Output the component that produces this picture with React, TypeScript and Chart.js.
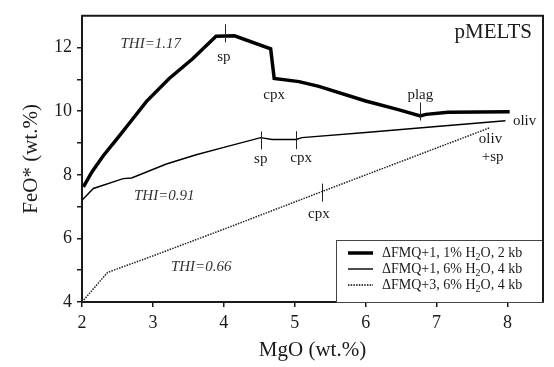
import { useEffect, useRef } from "react";
import { Chart, registerables } from "chart.js";

Chart.register(...registerables);

const FONT = "'Liberation Serif', 'Times New Roman', serif";

// Axis ticks
const xTickValues = [2, 3, 4, 5, 6, 7, 8];
const yTickValues = [4, 5, 6, 7, 8, 9, 10, 11, 12];
const yLabeledTicks = [4, 6, 8, 10, 12];

// Series: dFMQ+1, 1% H2O, 2 kb (thick)
const thickMgO = [2.02, 2.14, 2.3, 2.49, 2.67, 2.91, 3.23, 3.56, 3.89, 4.15, 4.66, 4.71, 5.06, 5.34, 6.0, 6.46, 6.77, 6.85, 7.16, 8.03];
const thickFeO = [7.62, 8.09, 8.6, 9.12, 9.63, 10.31, 11.03, 11.65, 12.36, 12.37, 11.96, 11.03, 10.93, 10.78, 10.32, 10.05, 9.85, 9.9, 9.97, 9.98];

// Series: dFMQ+1, 6% H2O, 4 kb (thin)
const thinMgO = [2.0, 2.16, 2.58, 2.7, 3.19, 3.61, 4.08, 4.52, 4.68, 5.02, 5.1, 6.0, 7.0, 7.97];
const thinFeO = [7.2, 7.57, 7.88, 7.9, 8.34, 8.63, 8.91, 9.17, 9.11, 9.11, 9.17, 9.33, 9.52, 9.7];

// Series: dFMQ+3, 6% H2O, 4 kb (dotted)
const dotMgO = [2.0, 2.36, 3.0, 4.0, 5.38, 7.75];
const dotFeO = [4.0, 4.93, 5.45, 6.29, 7.47, 9.48];

const legendLabels = ["ΔFMQ+1, 1% H_2O, 2 kb", "ΔFMQ+1, 6% H_2O, 4 kb", "ΔFMQ+3, 6% H_2O, 4 kb"];

// Text annotations (data coordinates)
const noteText = ["THI=1.17", "THI=0.91", "THI=0.66", "sp", "cpx", "plag", "oliv", "sp", "cpx", "cpx", "oliv", "+sp"];
const noteMgO = [2.97, 3.16, 3.68, 4.0, 4.71, 6.77, 8.24, 4.52, 5.09, 5.34, 7.76, 7.79];
const noteFeO = [12.11, 7.34, 5.11, 11.71, 10.5, 10.5, 9.7, 8.49, 8.52, 6.76, 9.11, 8.55];

// Phase-in tick marks (data coordinates)
const markMgO = [4.01, 6.77, 4.52, 5.02, 5.38];
const markFeO = [12.45, 9.99, 9.08, 9.09, 7.44];

const modelName = "pMELTS";
const xTitle = "MgO (wt.%)";
const yTitle = "FeO* (wt.%)";

const toPts = (xs: number[], ys: number[]) => xs.map((x, i) => ({ x, y: ys[i] }));

const annotationPlugin = {
  id: "annotations",
  afterDatasetsDraw(chart: any) {
    const { ctx, chartArea, scales } = chart;
    const xs = scales.x;
    const ys = scales.y;
    ctx.save();
    ctx.textAlign = "center";
    ctx.textBaseline = "middle";
    noteText.forEach((t, i) => {
      const italic = t.startsWith("THI");
      ctx.font = `${italic ? "italic " : ""}15px ${FONT}`;
      ctx.fillStyle = italic ? "#333" : "#1a1a1a";
      ctx.fillText(t, xs.getPixelForValue(noteMgO[i]), ys.getPixelForValue(noteFeO[i]));
    });
    // marks
    ctx.strokeStyle = "#222";
    ctx.lineWidth = 1;
    markMgO.forEach((mx, i) => {
      const px = Math.round(xs.getPixelForValue(mx)) + 0.5;
      const py = ys.getPixelForValue(markFeO[i]);
      ctx.beginPath();
      ctx.moveTo(px, py - 9);
      ctx.lineTo(px, py + 9);
      ctx.stroke();
    });
    // model name
    ctx.font = `21px ${FONT}`;
    ctx.fillStyle = "#1a1a1a";
    ctx.textAlign = "right";
    ctx.fillText(modelName, chartArea.right - 11, chartArea.top + 17);

    // legend
    const lw = 207;
    const lh = 62;
    const lx = chartArea.right - lw;
    const ly = chartArea.bottom - lh;
    ctx.fillStyle = "#fff";
    ctx.fillRect(lx, ly, lw, lh);
    ctx.strokeStyle = "#444";
    ctx.lineWidth = 1;
    ctx.strokeRect(lx + 0.5, ly + 0.5, lw, lh);
    legendLabels.forEach((label, i) => {
      const ds = chart.data.datasets[i];
      const rowY = ly + 13 + i * 16;
      ctx.save();
      ctx.strokeStyle = "#000";
      ctx.lineWidth = ds.borderWidth;
      ctx.setLineDash(ds.borderDash || []);
      ctx.beginPath();
      ctx.moveTo(lx + 12, rowY);
      ctx.lineTo(lx + 37, rowY);
      ctx.stroke();
      ctx.restore();
      const [a, b] = label.split("_2");
      let tx = lx + 46;
      ctx.textAlign = "left";
      ctx.textBaseline = "middle";
      ctx.fillStyle = "#1a1a1a";
      ctx.font = `14px ${FONT}`;
      ctx.fillText(a, tx, rowY);
      tx += ctx.measureText(a).width;
      ctx.font = `10px ${FONT}`;
      ctx.fillText("2", tx, rowY + 4);
      tx += ctx.measureText("2").width;
      ctx.font = `14px ${FONT}`;
      ctx.fillText(b, tx, rowY);
    });
    ctx.restore();
  },
  afterDraw(chart: any) {
    const { ctx, chartArea } = chart;
    ctx.save();
    ctx.strokeStyle = "#1a1a1a";
    ctx.lineWidth = 2;
    ctx.beginPath();
    ctx.moveTo(chartArea.left, chartArea.top);
    ctx.lineTo(chartArea.right, chartArea.top);
    ctx.lineTo(chartArea.right, chartArea.bottom);
    ctx.stroke();
    ctx.restore();
  },
};

export default function App() {
  const ref = useRef<HTMLCanvasElement | null>(null);
  useEffect(() => {
    if (!ref.current) return;
    const chart = new Chart(ref.current, {
      type: "scatter",
      data: {
        datasets: [
          {
            label: legendLabels[0],
            data: toPts(thickMgO, thickFeO),
            showLine: true,
            borderColor: "#000",
            borderWidth: 3.5,
            pointRadius: 0,
            borderJoinStyle: "miter",
          },
          {
            label: legendLabels[1],
            data: toPts(thinMgO, thinFeO),
            showLine: true,
            borderColor: "#000",
            borderWidth: 1.4,
            pointRadius: 0,
          },
          {
            label: legendLabels[2],
            data: toPts(dotMgO, dotFeO),
            showLine: true,
            borderColor: "#222",
            borderWidth: 1.5,
            borderDash: [1.5, 1.2],
            pointRadius: 0,
          },
        ] as any,
      },
      options: {
        animation: false,
        responsive: true,
        maintainAspectRatio: false,
        layout: { padding: { top: 11, right: 11, left: 0, bottom: 0 } },
        plugins: { legend: { display: false }, tooltip: { enabled: false } },
        scales: {
          x: {
            type: "linear",
            position: "bottom",
            min: 2,
            max: 8.5,
            afterBuildTicks: (s: any) => {
              s.ticks = xTickValues.map((v) => ({ value: v }));
            },
            afterFit: (s: any) => {
              s.height = 65;
            },
            ticks: {
              font: { family: FONT, size: 18 },
              color: "#1a1a1a",
              padding: 5,
              maxRotation: 0,
            },
            grid: {
              drawOnChartArea: false,
              drawTicks: true,
              tickLength: 5,
              color: "#1a1a1a",
              lineWidth: 1.5,
            },
            border: { display: true, color: "#1a1a1a", width: 2 },
            title: {
              display: true,
              text: xTitle,
              font: { family: FONT, size: 21 },
              color: "#1a1a1a",
              padding: { top: 0, bottom: 4 },
            },
          },
          y: {
            type: "linear",
            min: 4,
            max: 13,
            afterBuildTicks: (s: any) => {
              s.ticks = yTickValues.map((v) => ({ value: v }));
            },
            afterFit: (s: any) => {
              s.width = 82;
            },
            ticks: {
              font: { family: FONT, size: 18 },
              color: "#1a1a1a",
              padding: 5,
              callback: (v: any) => (yLabeledTicks.includes(Number(v)) ? String(v) : ""),
            },
            grid: {
              drawOnChartArea: false,
              drawTicks: true,
              tickLength: 5,
              color: "#1a1a1a",
              lineWidth: 1.5,
            },
            border: { display: true, color: "#1a1a1a", width: 2 },
            title: {
              display: true,
              text: yTitle,
              font: { family: FONT, size: 21 },
              color: "#1a1a1a",
              padding: { top: 19, bottom: 0 },
            },
          },
        },
      },
      plugins: [annotationPlugin],
    });
    return () => chart.destroy();
  }, []);
  return (
    <div style={{ position: "fixed", left: 0, top: 0, width: 554, height: 367, background: "#fff" }}>
      <canvas ref={ref} />
    </div>
  );
}
